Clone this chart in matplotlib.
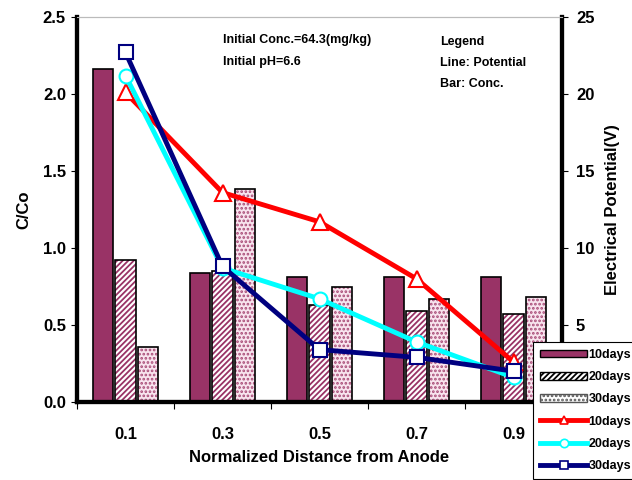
import numpy as np
import matplotlib
matplotlib.use("Agg")
import matplotlib.pyplot as plt
from matplotlib.patches import Patch
from matplotlib.lines import Line2D

plt.rcParams['font.family'] = ['Liberation Sans', 'DejaVu Sans']
plt.rcParams['font.weight'] = 'bold'
plt.rcParams['hatch.linewidth'] = 1.3

categories = ['0.1', '0.3', '0.5', '0.7', '0.9']
conc_10 = [2.16, 0.84, 0.81, 0.81, 0.81]
conc_20 = [0.92, 0.85, 0.63, 0.59, 0.57]
conc_30 = [0.36, 1.38, 0.75, 0.67, 0.68]
pot_10 = [20.1, 13.6, 11.7, 8.0, 2.6]
pot_20 = [21.2, 8.7, 6.7, 3.9, 1.6]
pot_30 = [22.7, 8.8, 3.4, 2.9, 2.0]
series_labels = ['10days', '20days', '30days']

maroon = '#993366'

fig = plt.figure(figsize=(6.32, 4.8), dpi=100)
ax = fig.add_axes([77/632, 1-402/480, (562-77)/632, (402-17)/480])
ax2 = ax.twinx()

x = np.arange(len(categories))
w = 0.215
off = 0.232

# 10 days solid
ax.bar(x - off, conc_10, w, color=maroon, edgecolor='black', linewidth=1.2, zorder=2)
# 20 days hatched
ax.bar(x, conc_20, w, color='white', edgecolor=maroon, hatch='//////', linewidth=0, zorder=2)
ax.bar(x, conc_20, w, fill=False, edgecolor='black', linewidth=1.2, zorder=3)
# 30 days dotted
ax.bar(x + off, conc_30, w, color='#f8e4ee', edgecolor='#a84a76', hatch='....', linewidth=0, zorder=2)
ax.bar(x + off, conc_30, w, fill=False, edgecolor='black', linewidth=1.2, zorder=3)

ax.set_xlim(-0.5, len(categories) - 0.5)
ax.set_ylim(0, 2.5)
ax.set_yticks(np.arange(0, 2.51, 0.5))
ax.set_yticklabels([f'{v:.1f}' for v in np.arange(0, 2.51, 0.5)], fontsize=12, fontweight='bold')
ax.set_xticks(np.arange(len(categories) + 1) - 0.5)
ax.set_xticklabels([])
ax.set_xticks(x, minor=True)
ax.set_xticklabels(categories, minor=True, fontsize=12, fontweight='bold')
ax.tick_params(axis='x', which='minor', length=0, pad=18)
ax.tick_params(axis='x', which='major', length=5, direction='out')
ax.tick_params(axis='y', length=4, direction='out', pad=4)
ax.set_xlabel('Normalized Distance from Anode', fontsize=12, fontweight='bold', labelpad=6)
ax.set_ylabel('C/Co', fontsize=12, fontweight='bold', labelpad=8)

l1, = ax2.plot(x, pot_10, color='red', lw=3.5, marker='^', ms=11, mfc='white', mec='red', mew=1.5, zorder=5)
l2, = ax2.plot(x, pot_20, color='cyan', lw=3.5, marker='o', ms=10, mfc='white', mec='cyan', mew=1.5, zorder=5)
l3, = ax2.plot(x, pot_30, color='#000080', lw=3.5, marker='s', ms=10, mfc='white', mec='#000080', mew=1.5, zorder=5)
ax2.set_ylim(0, 25)
ax2.set_yticks(np.arange(0, 26, 5))
ax2.set_yticklabels([str(v) for v in range(0, 26, 5)], fontsize=12, fontweight='bold')
ax2.tick_params(axis='y', length=4, direction='out', pad=6)
ax2.set_ylabel('Electrical Potential(V)', fontsize=12, fontweight='bold', labelpad=8)

for a in (ax, ax2):
    a.spines['left'].set_linewidth(3)
    a.spines['bottom'].set_linewidth(3)
    a.spines['right'].set_linewidth(3)
    a.spines['top'].set_linewidth(0.8)
    a.spines['top'].set_color('#bbbbbb')

fs_note = 9
fig.text(223/632, 1-40/480, 'Initial Conc.=64.3(mg/kg)', fontsize=fs_note, fontweight='bold', va='center')
fig.text(223/632, 1-62/480, 'Initial pH=6.6', fontsize=fs_note, fontweight='bold', va='center')
fig.text(440/632, 1-42/480, 'Legend', fontsize=fs_note, fontweight='bold', va='center')
fig.text(440/632, 1-63/480, 'Line: Potential', fontsize=fs_note, fontweight='bold', va='center')
fig.text(440/632, 1-84/480, 'Bar: Conc.', fontsize=fs_note, fontweight='bold', va='center')

handles = [
    Patch(facecolor=maroon, edgecolor='black', linewidth=1),
    Patch(facecolor='white', edgecolor='black', hatch='//////', linewidth=1),
    Patch(facecolor='white', edgecolor='#555555', hatch='....', linewidth=1),
    Line2D([], [], color='red', lw=3.5, marker='^', ms=6, mfc='white', mec='red', mew=1.2),
    Line2D([], [], color='cyan', lw=3.5, marker='o', ms=6, mfc='white', mec='cyan', mew=1.2),
    Line2D([], [], color='#000080', lw=3.5, marker='s', ms=6, mfc='white', mec='#000080', mew=1.2),
]
labels = series_labels + series_labels
leg = ax2.legend(handles, labels, loc='upper left', bbox_to_anchor=(533/632, 1-342/480),
                 bbox_transform=fig.transFigure, fontsize=9, frameon=True, fancybox=False,
                 edgecolor='black', framealpha=1, handlelength=3.8, handleheight=0.6,
                 handletextpad=0.1, labelspacing=0.82, borderpad=0.55, borderaxespad=0)
leg.get_frame().set_linewidth(0.8)
leg.set_zorder(20)

fig.savefig('out.png', dpi=100)
